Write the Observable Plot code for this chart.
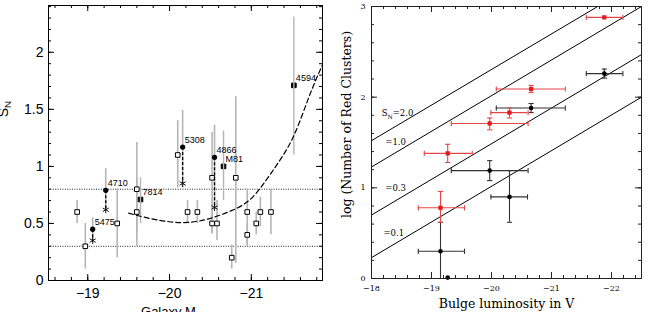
<!DOCTYPE html>
<html><head><meta charset="utf-8">
<script src="https://cdn.jsdelivr.net/npm/d3@7"></script>
<script src="https://cdn.jsdelivr.net/npm/@observablehq/plot@0.6"></script>
<style>
html,body{margin:0;padding:0;background:white;}
#wrap{display:flex;width:648px;height:312px;overflow:hidden;}
#wrap svg{flex:none;}
</style></head><body><div id="wrap"></div>
<script>
// ===== Left panel: S_N vs galaxy M_V =====
const openX  = [-18.87,-18.97,-19.36,-19.60,-19.60,-20.10,-20.22,-20.34,-20.52,-20.52,-20.58,-20.81,-20.76,-20.95,-20.95,-21.06,-21.11,-21.24];
const openY  = [0.60,0.30,0.50,0.80,0.60,1.10,0.60,0.60,0.90,0.50,0.50,0.90,0.20,0.60,0.40,0.50,0.60,0.60];
const openLo = [0.50,0.10,0.20,0.41,0.30,0.81,0.50,0.50,0.41,0.41,0.35,0.15,0.10,0.31,0.30,0.40,0.47,0.40];
const openHi = [0.70,0.50,0.80,0.90,1.21,1.40,0.70,0.70,1.30,0.60,0.70,1.61,0.31,0.80,0.50,0.60,0.73,0.80];

const namedSqName = ["7814","M81","4594"];
const namedSqX  = [-19.645,-20.66,-21.52];
const namedSqY  = [0.71,1.00,1.71];
const namedSqLo = [0.50,0.70,1.10];
const namedSqHi = [0.90,1.31,2.31];

const circName = ["4710","5475","5308","4866"];
const circX  = [-19.22,-19.06,-20.16,-20.55];
const circY  = [0.79,0.45,1.17,1.08];
const circLo = [0.62,0.35,0.81,0.62];
const circHi = [0.98,0.55,1.49,1.36];
const starY  = [0.62,0.35,0.85,0.64];

const curveX = [-19.50,-19.75,-20.00,-20.25,-20.50,-20.75,-21.00,-21.25,-21.50,-21.70,-21.87];
const curveY = [0.59,0.545,0.515,0.51,0.545,0.61,0.72,0.95,1.24,1.60,1.89];

const dottedLevels = [0.8, 0.3];
const leftXTicks = [-19,-20,-21];
const leftYTicks = [0,0.5,1,1.5,2];

// ===== Right panel: log N(red GCs) vs bulge luminosity =====
const redX   = [-21.88,-20.66,-20.30,-19.97,-19.27,-19.15];
const redY   = [2.88,2.09,1.83,1.71,1.38,0.78];
const redXlo = [-21.58,-20.08,-19.99,-19.33,-18.88,-18.78];
const redXhi = [-22.19,-21.23,-20.61,-20.61,-19.68,-19.55];
const redYlo = [null,2.05,1.77,1.64,1.28,0.62];
const redYhi = [null,2.13,1.88,1.77,1.48,0.96];

const blkX   = [-21.88,-20.66,-19.97,-20.30,-19.15,-19.27];
const blkY   = [2.26,1.88,1.19,0.90,0.30,0.01];
const blkXlo = [-21.58,-20.08,-19.33,-19.99,-18.78,null];
const blkXhi = [-22.19,-21.23,-20.61,-20.60,-19.55,null];
const blkYlo = [2.21,1.83,1.08,0.62,0,null];
const blkYhi = [2.31,1.93,1.30,1.19,0.62,null];

const snLabel = ["S_N=2.0","=1.0","=0.3","=0.1"];
const snX1 = [-18,-18,-18,-18];
const snY1 = [1.52,1.23,0.70,0.23];
const snX2 = [-21.77,-22.5,-22.5,-22.5];
const snY2 = [3.0,3.0,2.47,2.0];
const snLabelX = [-18.17,-18.23,-18.23,-18.20];
const snLabelY = [1.82,1.50,1.00,0.50];

const rightXTicks = [-18,-19,-20,-21,-22];
const rightYTicks = [0,1,2,3];

// ----- helpers -----
const minus = d => (d < 0 ? "\u2212" + Math.abs(d) : String(d));
const capV = {draw(ctx, size){ const h = Math.sqrt(size/Math.PI); ctx.moveTo(0,-h); ctx.lineTo(0,h); }};
const capH = {draw(ctx, size){ const h = Math.sqrt(size/Math.PI); ctx.moveTo(-h,0); ctx.lineTo(h,0); }};
function subscripts(svg){
  d3.select(svg).selectAll("text").each(function(){
    const t = this.textContent;
    const m = /^(.*?)_(\w)(.*)$/.exec(t);
    if (!m) return;
    const fsAttr = this.closest("[font-size]");
    const fs = fsAttr ? parseFloat(fsAttr.getAttribute("font-size")) : 10;
    const el = d3.select(this); el.text(null);
    el.append("tspan").text(m[1]);
    el.append("tspan").attr("dy", (0.28*fs)+"px").attr("font-size", (0.7*fs)+"px").text(m[2]);
    if (m[3]) el.append("tspan").attr("dy", (-0.28*fs)+"px").text(m[3]);
  });
  return svg;
}
function frameTicks(xMajor, xMinor, yMajor, yMinor, W, H, maj, min, stroke){
  return [
    Plot.ruleX(xMajor, {x: d=>d, insetTop: H-maj, stroke, strokeWidth: 1}),
    Plot.ruleX(xMajor, {x: d=>d, insetBottom: H-maj, stroke, strokeWidth: 1}),
    Plot.ruleX(xMinor, {x: d=>d, insetTop: H-min, stroke, strokeWidth: 1}),
    Plot.ruleX(xMinor, {x: d=>d, insetBottom: H-min, stroke, strokeWidth: 1}),
    Plot.ruleY(yMajor, {y: d=>d, insetRight: W-maj, stroke, strokeWidth: 1}),
    Plot.ruleY(yMajor, {y: d=>d, insetLeft: W-maj, stroke, strokeWidth: 1}),
    Plot.ruleY(yMinor, {y: d=>d, insetRight: W-min, stroke, strokeWidth: 1}),
    Plot.ruleY(yMinor, {y: d=>d, insetLeft: W-min, stroke, strokeWidth: 1})
  ];
}

// ----- build tables -----
const openSq = openX.map((x,i)=>({x, y: openY[i], lo: openLo[i], hi: openHi[i]}));
const namedSq = namedSqX.map((x,i)=>({name: namedSqName[i], x, y: namedSqY[i], lo: namedSqLo[i], hi: namedSqHi[i]}));
const circ = circX.map((x,i)=>({name: circName[i], x, y: circY[i], lo: circLo[i], hi: circHi[i], star: starY[i]}));
const curve = curveX.map((x,i)=>({x, y: curveY[i]}));
const labelled = [...circ, ...namedSq];

const LW = 330, LH = 312, Lml = 48, Lmr = 8, Lmt = 5, Lmb = 32;
const LFW = LW-Lml-Lmr, LFH = LH-Lmt-Lmb;
const leftXMinor = d3.range(-18.6, -21.87, -0.2);
const leftYMinor = d3.range(0.1, 2.41, 0.1);

const left = Plot.plot({
  width: LW, height: LH,
  marginLeft: Lml, marginRight: Lmr, marginTop: Lmt, marginBottom: Lmb,
  x: {domain: [-18.52, -21.87], label: null},
  y: {domain: [0, 2.41], label: null},
  style: {fontFamily: "'Liberation Sans', Arial, sans-serif", background: "white", color: "black"},
  marks: [
    ...frameTicks(leftXTicks, leftXMinor, leftYTicks, leftYMinor, LFW, LFH, 6, 3, "black"),
    Plot.axisX(leftXTicks, {tickSize: 0, tickPadding: 8, fontSize: 14, tickFormat: minus, label: null}),
    Plot.axisY(leftYTicks, {tickSize: 0, tickPadding: 5, fontSize: 14, tickFormat: d=>String(d), label: null}),
    Plot.ruleY(dottedLevels, {y: d=>d, stroke: "#222", strokeWidth: 1, strokeDasharray: "1,1.4"}),
    Plot.ruleX(openSq, {x: "x", y1: "lo", y2: "hi", stroke: "#b5b5b5", strokeWidth: 1.6}),
    Plot.ruleX(circ, {x: "x", y1: "lo", y2: "hi", stroke: "#b5b5b5", strokeWidth: 1.6}),
    Plot.dot(openSq, {x: "x", y: "y", symbol: "square", r: 2.6, fill: "white", stroke: "black", strokeWidth: 1}),
    Plot.dot(namedSq, {x: "x", y: "y", symbol: "square", r: 2.6, fill: "black", stroke: "black", strokeWidth: 1}),
    Plot.ruleX(namedSq, {x: "x", y1: "lo", y2: "hi", stroke: "#b5b5b5", strokeWidth: 1.4}),
    Plot.line(curve, {x: "x", y: "y", curve: "natural", stroke: "black", strokeWidth: 1.2, strokeDasharray: "5,3"}),
    Plot.link(circ, {x1: "x", x2: "x", y1: "y", y2: "star", stroke: "black", strokeWidth: 1.3, strokeDasharray: "3,2"}),
    Plot.dot(circ, {x: "x", y: "star", symbol: "asterisk", r: 3.3, stroke: "black", fill: "none", strokeWidth: 0.9}),
    Plot.dot(circ, {x: "x", y: "y", r: 2.6, fill: "black"}),
    Plot.text(labelled, {x: "x", y: "y", text: "name", dx: 2, dy: -7, textAnchor: "start", fontSize: 9, fill: "black"}),
    Plot.text(["S_N"], {frameAnchor: "left", rotate: -90, textAnchor: "middle", dx: -41, dy: -34, lineAnchor: "bottom", fontSize: 14, fill: "black"}),
    Plot.text(["Galaxy M_V"], {frameAnchor: "bottom", textAnchor: "middle", dx: -14, dy: 35, lineAnchor: "bottom", fontSize: 13, fill: "black"}),
    Plot.frame({stroke: "black", strokeWidth: 1})
  ]
});

// ----- right panel -----
const red = redX.map((x,i)=>({x, y: redY[i], xlo: redXlo[i], xhi: redXhi[i], ylo: redYlo[i], yhi: redYhi[i]}));
const blk = blkX.map((x,i)=>({x, y: blkY[i], xlo: blkXlo[i], xhi: blkXhi[i], ylo: blkYlo[i], yhi: blkYhi[i]}));
const sn = snLabel.map((t,i)=>({t, x1: snX1[i], y1: snY1[i], x2: snX2[i], y2: snY2[i], lx: snLabelX[i], ly: snLabelY[i]}));

const RW = 318, RH = 312, Rml = 41, Rmr = 7, Rmt = 6, Rmb = 34;
const RFW = RW-Rml-Rmr, RFH = RH-Rmt-Rmb;
const rightXMinor = d3.range(-18.2, -22.45, -0.2);
const rightYMinor = d3.range(0.2, 2.95, 0.2);
const redC = "#e3191c", redE = "#e2474a", blkE = "#333";

function errMarks(data, pt, err, pointOpts){
  const hx = data.filter(d=>d.xlo!=null), vy = data.filter(d=>d.ylo!=null);
  return [
    Plot.ruleY(hx, {y: "y", x1: "xlo", x2: "xhi", stroke: err, strokeWidth: 1.1}),
    Plot.dot(hx, {x: "xlo", y: "y", symbol: capV, r: 2.6, stroke: err, fill: "none", strokeWidth: 1.1}),
    Plot.dot(hx, {x: "xhi", y: "y", symbol: capV, r: 2.6, stroke: err, fill: "none", strokeWidth: 1.1}),
    Plot.ruleX(vy, {x: "x", y1: "ylo", y2: "yhi", stroke: err, strokeWidth: 1.1}),
    Plot.dot(vy.filter(d=>d.ylo>0), {x: "x", y: "ylo", symbol: capH, r: 2.6, stroke: err, fill: "none", strokeWidth: 1.1}),
    Plot.dot(vy, {x: "x", y: "yhi", symbol: capH, r: 2.6, stroke: err, fill: "none", strokeWidth: 1.1}),
    Plot.dot(data, {x: "x", y: "y", fill: pt, ...pointOpts})
  ];
}

const right = Plot.plot({
  width: RW, height: RH,
  marginLeft: Rml, marginRight: Rmr, marginTop: Rmt, marginBottom: Rmb,
  x: {domain: [-18, -22.5], label: null},
  y: {domain: [0, 3], label: null},
  style: {fontFamily: "'DejaVu Serif', serif", background: "white", color: "black"},
  marks: [
    ...frameTicks(rightXTicks, rightXMinor, rightYTicks, rightYMinor, RFW, RFH, 6, 3, "#222"),
    Plot.axisX(rightXTicks, {tickSize: 0, tickPadding: 7, fontSize: 8, tickFormat: minus, label: null}),
    Plot.axisY(rightYTicks, {tickSize: 0, tickPadding: 6, fontSize: 8, tickFormat: d=>String(d), label: null}),
    Plot.link(sn, {x1: "x1", y1: "y1", x2: "x2", y2: "y2", stroke: "black", strokeWidth: 1}),
    Plot.text(sn, {x: "lx", y: "ly", text: "t", textAnchor: "start", fontSize: 8.5, fill: "black"}),
    ...errMarks(blk, "black", blkE, {r: 2.3}),
    ...errMarks(red, redC, redE, {symbol: "square", r: 2.4}),
    Plot.text(["Bulge luminosity in V"], {frameAnchor: "bottom", textAnchor: "middle", dy: 29, lineAnchor: "bottom", fontSize: 12.5, fill: "black"}),
    Plot.text(["log (Number of Red Clusters)"], {frameAnchor: "left", rotate: -90, textAnchor: "middle", dx: -21, dy: -18, lineAnchor: "bottom", fontSize: 12.5, fill: "black"}),
    Plot.frame({stroke: "#222", strokeWidth: 1})
  ]
});

const wrap = document.getElementById("wrap");
wrap.appendChild(subscripts(left));
wrap.appendChild(subscripts(right));
</script>
</body></html>
